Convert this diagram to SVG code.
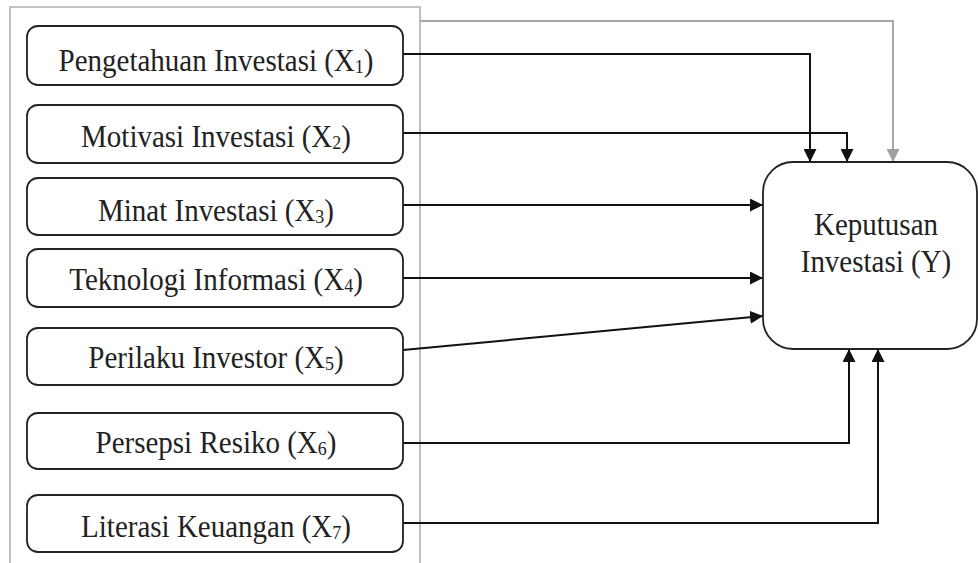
<svg xmlns="http://www.w3.org/2000/svg" width="978" height="563" viewBox="0 0 978 563">
<style>
.box{fill:#fff;stroke:#222;stroke-width:1.8}
.t{font-family:"Liberation Serif","Times New Roman",serif;font-size:29px;fill:#222;text-anchor:middle}
.sub{font-size:18px}
.c{fill:none;stroke:#111;stroke-width:2}
.g{fill:none;stroke:#a6a6a6;stroke-width:2}
</style>
<defs>
<marker id="a" markerUnits="userSpaceOnUse" markerWidth="13" markerHeight="13" refX="13" refY="6.5" orient="auto"><path d="M0,0 L13,6.5 L0,13 z" fill="#111"/></marker>
<marker id="ag" markerUnits="userSpaceOnUse" markerWidth="13" markerHeight="13" refX="13" refY="6.5" orient="auto"><path d="M0,0 L13,6.5 L0,13 z" fill="#a0a0a0"/></marker>
</defs>
<rect width="978" height="563" fill="#fff"/>
<g id="frame"><path d="M10,570 V7 H420 V570" fill="none" stroke="#b0b0b0" stroke-width="1.6"/></g>
<g id="connectors">
<path class="g" d="M420,21 H893 V162" marker-end="url(#ag)"/>
<path class="c" d="M403,54 H810 V162" marker-end="url(#a)"/>
<path class="c" d="M403,133 H847 V162" marker-end="url(#a)"/>
<path class="c" d="M403,205 H763" marker-end="url(#a)"/>
<path class="c" d="M403,278 H763" marker-end="url(#a)"/>
<path class="c" d="M403,350 L763,316" marker-end="url(#a)"/>
<path class="c" d="M403,443 H849 V349" marker-end="url(#a)"/>
<path class="c" d="M403,523 H878 V349" marker-end="url(#a)"/>
</g>
<g id="x1"><rect class="box" x="27" y="26" width="376" height="59" rx="11"/><text class="t" transform="translate(216,71) scale(1,1.08)">Pengetahuan Investasi (X<tspan class="sub" dy="2">1</tspan><tspan dy="-2">)</tspan></text></g>
<g id="x2"><rect class="box" x="27" y="105" width="376" height="58" rx="11"/><text class="t" transform="translate(216,147) scale(1,1.08)">Motivasi Investasi (X<tspan class="sub" dy="2">2</tspan><tspan dy="-2">)</tspan></text></g>
<g id="x3"><rect class="box" x="27" y="178" width="376" height="57" rx="11"/><text class="t" transform="translate(216,221) scale(1,1.08)">Minat Investasi (X<tspan class="sub" dy="2">3</tspan><tspan dy="-2">)</tspan></text></g>
<g id="x4"><rect class="box" x="27" y="249" width="376" height="58" rx="11"/><text class="t" transform="translate(216,290) scale(1,1.08)">Teknologi Informasi (X<tspan class="sub" dy="2">4</tspan><tspan dy="-2">)</tspan></text></g>
<g id="x5"><rect class="box" x="27" y="328" width="376" height="57" rx="11"/><text class="t" transform="translate(216,368) scale(1,1.08)">Perilaku Investor (X<tspan class="sub" dy="2">5</tspan><tspan dy="-2">)</tspan></text></g>
<g id="x6"><rect class="box" x="27" y="413" width="376" height="56" rx="11"/><text class="t" transform="translate(216,453) scale(1,1.08)">Persepsi Resiko (X<tspan class="sub" dy="2">6</tspan><tspan dy="-2">)</tspan></text></g>
<g id="x7"><rect class="box" x="27" y="495" width="376" height="57" rx="11"/><text class="t" transform="translate(216,537) scale(1,1.08)">Literasi Keuangan (X<tspan class="sub" dy="2">7</tspan><tspan dy="-2">)</tspan></text></g>
<g id="y"><rect class="box" x="763" y="162" width="214" height="187" rx="30"/>
<text class="t" transform="translate(876,235) scale(1,1.08)">Keputusan</text>
<text class="t" transform="translate(876,272) scale(1,1.08)">Investasi (Y)</text></g>
</svg>
